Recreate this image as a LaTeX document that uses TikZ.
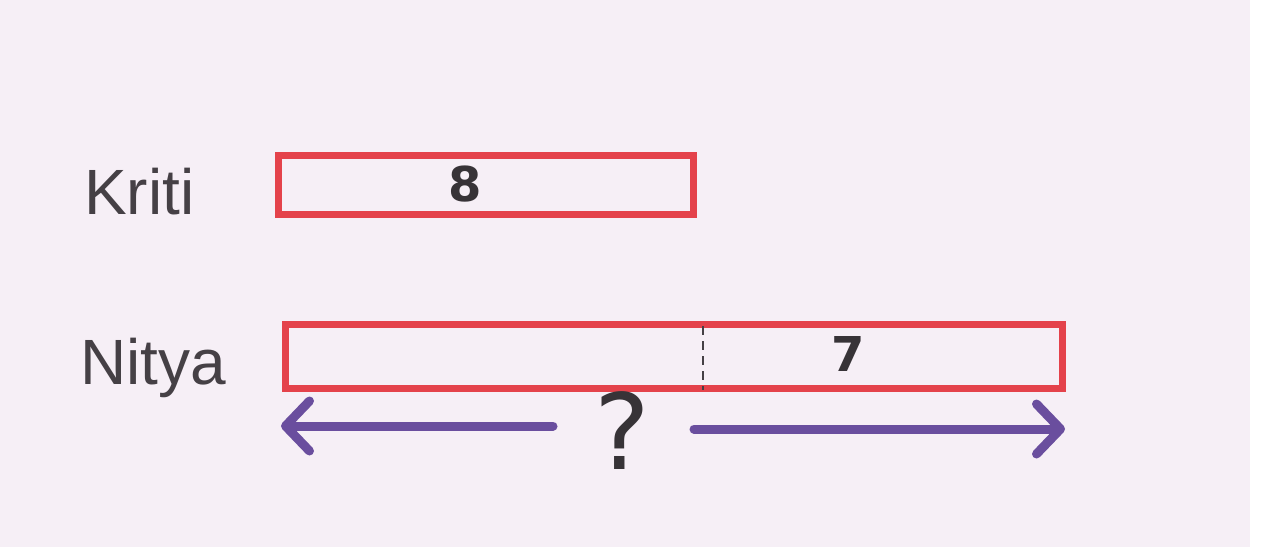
\documentclass[tikz,border=0pt]{standalone}
\usepackage{fontspec}
\setmainfont{Liberation Sans}
\newfontfamily\numfont{DejaVu Sans}
\usetikzlibrary{arrows.meta}
\definecolor{paper}{HTML}{F6EFF6}
\definecolor{redink}{HTML}{E4424B}
\definecolor{purpleink}{HTML}{6A4E9E}
\definecolor{pencil}{HTML}{454045}
\tikzset{
  barbox/.style={draw=redink, line width=7pt, rectangle, inner sep=0pt, outer sep=0pt, anchor=north west},
  namelabel/.style={text=pencil, font=\fontsize{64}{70}\selectfont, inner sep=0pt},
  numlabel/.style={text=pencil!80!black, font=\numfont\bfseries\fontsize{48}{50}\selectfont, inner sep=0pt},
  spanarrow/.style={draw=purpleink, line width=9pt, line cap=round, -{Straight Barb[length=24pt, width=50pt, line cap=round, line join=round]}}
}
\begin{document}
\begin{tikzpicture}[x=1pt,y=-1pt]
\useasboundingbox (0,0) rectangle (1261,554);
\fill[white] (0,0) rectangle (1261,554);
\fill[paper] (0,0) rectangle (1250,547);
% labels
\node[namelabel, anchor=base west] (kriti) at (84,214) {Kriti};
\node[namelabel, anchor=base west] (nitya) at (80,384) {Nitya};
% Kriti bar
\node[barbox, minimum width=415pt, minimum height=59pt] (kbar) at (278,155) {};
\node[numlabel] (eight) at (465,184) {8};
% Nitya bar
\node[barbox, minimum width=777pt, minimum height=64pt] (nbar) at (285,324) {};
\coordinate (dtop) at (703,326);
\coordinate (dbot) at (703,390);
\draw[pencil, line width=1.6pt, dash pattern=on 9pt off 6pt] (dtop) -- (dbot);
\node[numlabel] (seven) at (848,354) {7};
% question mark and arrows
\node[numlabel, font=\numfont\fontsize{105}{110}\selectfont] (q) at (622,431) {?};
\coordinate (lstart) at (553,426);
\coordinate (lend) at (281,426);
\coordinate (rstart) at (694,429);
\coordinate (rend) at (1065,429);
\draw[spanarrow] (lstart) -- (lend);
\draw[spanarrow] (rstart) -- (rend);
\end{tikzpicture}
\end{document}
